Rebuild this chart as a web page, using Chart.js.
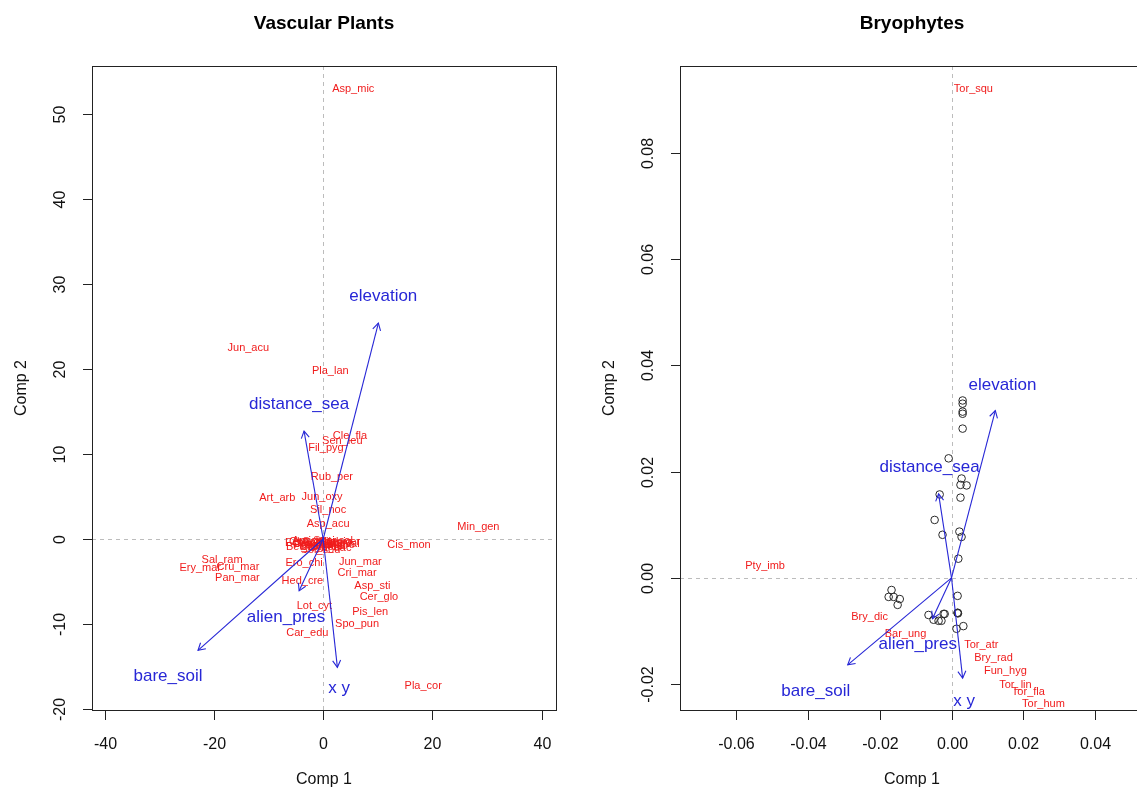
<!DOCTYPE html>
<html><head><meta charset="utf-8">
<script src="https://cdn.jsdelivr.net/npm/chart.js@4.4.0/dist/chart.umd.min.js"></script>
<style>
html,body{margin:0;padding:0;background:#fff;overflow:hidden;width:1137px;height:790px;}
#wrap{position:relative;width:1137px;height:790px;overflow:hidden;background:#fff;}
canvas{position:absolute;top:0;}
#c1{left:0;} #c2{left:590px;}
</style></head><body>
<div id="wrap"><canvas id="c1" width="590" height="790"></canvas><canvas id="c2" width="560" height="790"></canvas></div>
<script>
// ---------- Vascular plants ----------
const vpSpecies = ["Asp_mic","Jun_acu","Pla_lan","Cle_fla","Sen_leu","Fil_pyg","Rub_per","Art_arb","Jun_oxy","Sil_noc","Asp_acu","Min_gen","Cis_mon",
  "Che_alb","Cak_mar","Ely_far","Atr_pro","Sal_kal","Pol_mar","Sue_ver","Bet_mar","Spa_sal","Sol_sod","Cal_sol","Lim_val",
  "Eup_par","Ami_maj","Sil_nig","Ech_cal","Cyn_dac","Pol_ten",
  "Jun_mar","Cri_mar","Ero_chi","Sal_ram","Ery_mar","Cru_mar","Pan_mar","Hed_cre","Asp_sti","Cer_glo","Lot_cyt","Pis_len","Spo_pun","Car_edu","Pla_cor"];
const vpX = [5.5,-13.7,1.3,4.9,3.5,0.5,1.6,-8.4,-0.2,0.9,0.9,28.4,15.7,
  -2.5,-1.5,1.0,2.5,-0.5,0.5,3.0,-3.0,1.8,-0.5,-1.0,3.2,
  0.0,-1.8,2.2,-3.4,1.2,-2.0,
  6.8,6.2,-3.5,-18.5,-22.5,-15.6,-15.7,-3.8,9.0,10.2,-1.6,8.6,6.2,-2.9,18.3];
const vpY = [52.9,22.5,19.8,12.1,11.5,10.7,7.3,4.8,4.9,3.4,1.8,1.4,-0.7,
  -0.4,-0.6,-0.5,-0.7,-0.3,-0.8,-0.3,-0.9,-0.2,-1.3,-0.9,-0.6,
  -0.5,-0.2,-0.4,-0.5,-1.0,-0.7,
  -2.7,-4.0,-2.8,-2.5,-3.4,-3.3,-4.6,-4.9,-5.5,-6.8,-7.9,-8.6,-10.0,-11.1,-17.3];
const vpVars = ["elevation","distance_sea","alien_pres","bare_soil","x y"];
const vpVarX = [10.1,-3.5,-4.4,-22.9,2.6];
const vpVarY = [25.4,12.7,-6.1,-13.1,-15.1];
const vpVarLabX = [11.0,-4.4,-6.8,-28.4,2.9];
const vpVarLabY = [28.5,15.9,-9.2,-16.2,-17.6];
const vpXTicks = [-40,-20,0,20,40];
const vpYTicks = [-20,-10,0,10,20,30,40,50];
const vpXTickLabels = ["-40","-20","0","20","40"];
const vpYTickLabels = ["-20","-10","0","10","20","30","40","50"];

// ---------- Bryophytes ----------
const brSpecies = ["Tor_squ","Pty_imb","Bry_dic","Bar_ung","Tor_atr","Bry_rad","Fun_hyg","Tor_lin","Tor_fla","Tor_hum"];
const brX = [0.0061,-0.0519,-0.0228,-0.0128,0.0083,0.0117,0.0150,0.0178,0.0214,0.0256];
const brY = [0.0921,0.0023,-0.0074,-0.0106,-0.0126,-0.0151,-0.0175,-0.0202,-0.0215,-0.0238];
const brSiteX = [0.0031,0.0031,0.0031,0.0031,0.0031,-0.0008,0.0028,0.0025,0.0042,-0.0033,0.0025,
  -0.0047,-0.0025,0.0022,0.0028,0.0019,-0.0167,-0.0175,-0.0161,-0.0144,-0.0150,0.0017,
  -0.0064,-0.0050,-0.0036,-0.0028,-0.0022,-0.0019,0.0017,0.0017,0.0018,0.0014,0.0033];
const brSiteY = [0.0334,0.0328,0.0313,0.0309,0.0281,0.0225,0.0187,0.0175,0.0174,0.0157,0.0151,
  0.0109,0.0081,0.0087,0.0077,0.0036,-0.0023,-0.0036,-0.0036,-0.0040,-0.0051,-0.0034,
  -0.0070,-0.0079,-0.0081,-0.0081,-0.0068,-0.0068,-0.0066,-0.0066,-0.0067,-0.0096,-0.0091];
const brVars = ["elevation","distance_sea","alien_pres","bare_soil","x y"];
const brVarX = [0.0122,-0.0036,-0.0053,-0.0289,0.0031];
const brVarY = [0.0315,0.0158,-0.0077,-0.0164,-0.0189];
const brVarLabX = [0.0142,-0.0061,-0.0094,-0.0378,0.0035];
const brVarLabY = [0.0362,0.0208,-0.0126,-0.0213,-0.0232];
const brXTicks = [-0.06,-0.04,-0.02,0,0.02,0.04];
const brYTicks = [-0.02,0,0.02,0.04,0.06,0.08];
const brXTickLabels = ["-0.06","-0.04","-0.02","0.00","0.02","0.04"];
const brYTickLabels = ["-0.02","0.00","0.02","0.04","0.06","0.08"];

const FONT = '"Liberation Sans", Arial, Helvetica, sans-serif';
const RED = '#f01c1c';
const BLUE = '#2727d6';

function pts(xs, ys){ return xs.map((x,i)=>({x:x, y:ys[i]})); }

function makePlugin(cfg){
  return {
    id:'biplot',
    beforeDatasetsDraw(chart){
      const ctx=chart.ctx, a=chart.chartArea, xs=chart.scales.x, ys=chart.scales.y;
      ctx.save();
      ctx.beginPath(); ctx.rect(a.left,a.top,a.right-a.left,a.bottom-a.top); ctx.clip();
      ctx.strokeStyle='#bcbcbc'; ctx.lineWidth=1; ctx.setLineDash([4,4]);
      const x0=Math.round(xs.getPixelForValue(0))+0.5, y0=Math.round(ys.getPixelForValue(0))+0.5;
      ctx.beginPath(); ctx.moveTo(a.left,y0); ctx.lineTo(a.right,y0); ctx.stroke();
      ctx.beginPath(); ctx.moveTo(x0,a.top); ctx.lineTo(x0,a.bottom); ctx.stroke();
      ctx.setLineDash([]);
      const meta=chart.getDatasetMeta(0);
      ctx.fillStyle=RED; ctx.font='11px '+FONT; ctx.textAlign='center'; ctx.textBaseline='middle';
      meta.data.forEach((el,i)=>ctx.fillText(cfg.species[i], el.x, el.y));
      ctx.restore();
    },
    afterDatasetsDraw(chart){
      const ctx=chart.ctx, xs=chart.scales.x, ys=chart.scales.y;
      const ox=xs.getPixelForValue(0), oy=ys.getPixelForValue(0);
      ctx.save();
      ctx.strokeStyle=BLUE; ctx.lineWidth=1.1;
      chart.getDatasetMeta(1).data.forEach(el=>{
        const ang=Math.atan2(el.y-oy, el.x-ox), L=8, h=Math.PI/6;
        ctx.beginPath(); ctx.moveTo(ox,oy); ctx.lineTo(el.x,el.y); ctx.stroke();
        ctx.beginPath();
        ctx.moveTo(el.x-L*Math.cos(ang-h), el.y-L*Math.sin(ang-h));
        ctx.lineTo(el.x,el.y);
        ctx.lineTo(el.x-L*Math.cos(ang+h), el.y-L*Math.sin(ang+h));
        ctx.stroke();
      });
      ctx.fillStyle=BLUE; ctx.font='17px '+FONT; ctx.textAlign='center'; ctx.textBaseline='middle';
      chart.getDatasetMeta(2).data.forEach((el,i)=>ctx.fillText(cfg.vars[i], el.x, el.y));
      ctx.restore();
    },
    afterDraw(chart){
      const ctx=chart.ctx, a=chart.chartArea, xs=chart.scales.x, ys=chart.scales.y;
      ctx.save();
      ctx.strokeStyle='#222'; ctx.lineWidth=1;
      ctx.strokeRect(Math.round(a.left)+0.5, Math.round(a.top)+0.5, Math.round(a.right-a.left), Math.round(a.bottom-a.top));
      ctx.fillStyle='#111'; ctx.font='16px '+FONT; ctx.textAlign='center'; ctx.textBaseline='middle';
      const bx=Math.round(a.bottom)+0.5, lx=Math.round(a.left)+0.5;
      cfg.xticks.forEach((t,i)=>{
        const px=Math.round(xs.getPixelForValue(t))+0.5;
        ctx.beginPath(); ctx.moveTo(px,bx); ctx.lineTo(px,bx+9.5); ctx.stroke();
        ctx.fillText(cfg.xlabels[i], px, a.bottom+35);
      });
      cfg.yticks.forEach((t,i)=>{
        const py=Math.round(ys.getPixelForValue(t))+0.5;
        ctx.beginPath(); ctx.moveTo(lx,py); ctx.lineTo(lx-9.5,py); ctx.stroke();
        ctx.save(); ctx.translate(a.left-31, py); ctx.rotate(-Math.PI/2);
        ctx.fillText(cfg.ylabels[i], 0, 0); ctx.restore();
      });
      const cx=(a.left+a.right)/2, cy=(a.top+a.bottom)/2;
      ctx.fillText('Comp 1', cx, 780);
      ctx.save(); ctx.translate(a.left-70, cy); ctx.rotate(-Math.PI/2); ctx.fillText('Comp 2',0,0); ctx.restore();
      ctx.fillStyle='#000'; ctx.font='bold 19px '+FONT;
      ctx.fillText(cfg.title, cx, 24);
      ctx.restore();
    }
  };
}

function makeChart(id, cfg){
  const datasets=[
    {data:pts(cfg.sx,cfg.sy), pointRadius:0, showLine:false},
    {data:pts(cfg.vx,cfg.vy), pointRadius:0, showLine:false},
    {data:pts(cfg.lx,cfg.ly), pointRadius:0, showLine:false}
  ];
  if(cfg.siteX){
    datasets.push({data:pts(cfg.siteX,cfg.siteY), pointRadius:3.8, pointStyle:'circle',
      borderColor:'#2a2a2a', backgroundColor:'rgba(0,0,0,0)', borderWidth:1, showLine:false});
  }
  return new Chart(document.getElementById(id), {
    type:'scatter',
    data:{datasets:datasets},
    options:{
      responsive:false, animation:false, events:[],
      layout:{padding:cfg.pad},
      plugins:{legend:{display:false}, tooltip:{enabled:false}, title:{display:false}},
      scales:{
        x:{type:'linear', display:false, min:cfg.xmin, max:cfg.xmax},
        y:{type:'linear', display:false, min:cfg.ymin, max:cfg.ymax}
      }
    },
    plugins:[makePlugin(cfg)]
  });
}

makeChart('c1', {
  title:'Vascular Plants', species:vpSpecies, vars:vpVars,
  sx:vpX, sy:vpY, vx:vpVarX, vy:vpVarY, lx:vpVarLabX, ly:vpVarLabY,
  xticks:vpXTicks, yticks:vpYTicks, xlabels:vpXTickLabels, ylabels:vpYTickLabels,
  xmin:-42.3, xmax:42.6, ymin:-20.12, ymax:55.65,
  pad:{left:92, right:34, top:66, bottom:80}
});
makeChart('c2', {
  title:'Bryophytes', species:brSpecies, vars:brVars,
  sx:brX, sy:brY, vx:brVarX, vy:brVarY, lx:brVarLabX, ly:brVarLabY,
  siteX:brSiteX, siteY:brSiteY,
  xticks:brXTicks, yticks:brYTicks, xlabels:brXTickLabels, ylabels:brYTickLabels,
  xmin:-0.0756, xmax:0.0536, ymin:-0.0249, ymax:0.0964,
  pad:{left:90, right:6, top:66, bottom:80}
});
</script>
</body></html>
